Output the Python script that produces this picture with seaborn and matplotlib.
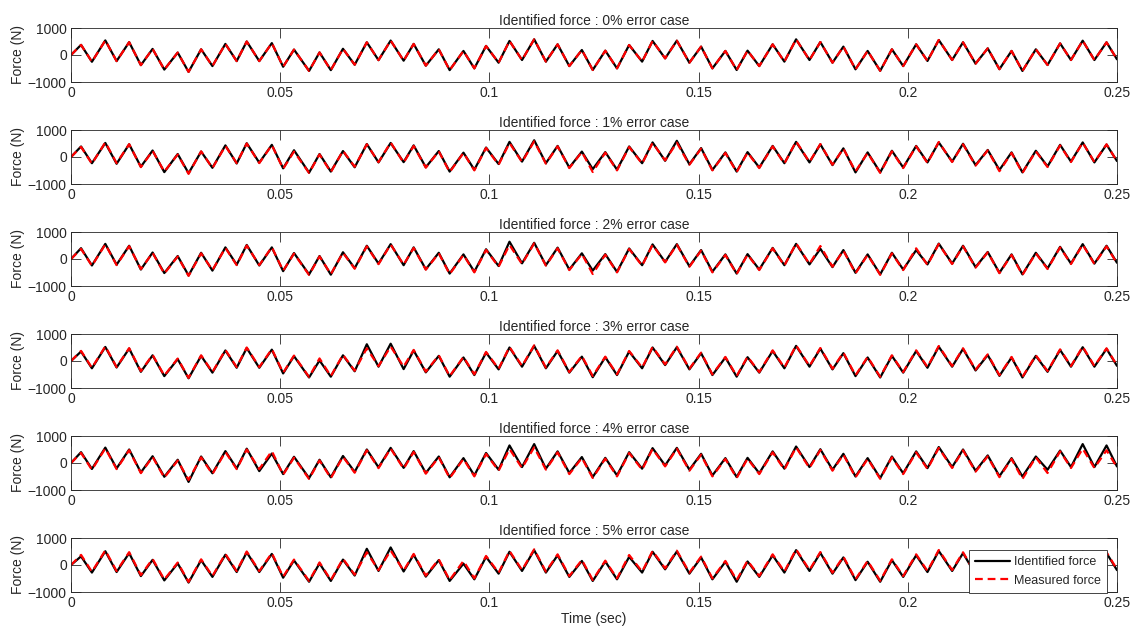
import numpy as np
import matplotlib
matplotlib.use("Agg")
import matplotlib.pyplot as plt
import seaborn as sns

# Peak / trough times (sec)
t_ext = [0.0, 0.0024, 0.0050, 0.0082, 0.0109, 0.0139, 0.0167, 0.0195, 0.0223, 0.0255,
         0.0281, 0.0311, 0.0338, 0.0369, 0.0396, 0.0420, 0.0450, 0.0480, 0.0507, 0.0533,
         0.0569, 0.0594, 0.0621, 0.0650, 0.0678, 0.0707, 0.0735, 0.0764, 0.0795, 0.0819,
         0.0848, 0.0879, 0.0905, 0.0938, 0.0964, 0.0992, 0.1022, 0.1048, 0.1078, 0.1107,
         0.1135, 0.1163, 0.1191, 0.1221, 0.1247, 0.1277, 0.1305, 0.1334, 0.1365, 0.1390,
         0.1420, 0.1448, 0.1478, 0.1506, 0.1533, 0.1564, 0.1591, 0.1617, 0.1645, 0.1677,
         0.1705, 0.1733, 0.1765, 0.1791, 0.1820, 0.1846, 0.1875, 0.1904, 0.1934, 0.1962,
         0.1989, 0.2020, 0.2047, 0.2074, 0.2106, 0.2132, 0.2162, 0.2191, 0.2219, 0.2248,
         0.2274, 0.2306, 0.2334, 0.2364, 0.2390, 0.2418, 0.2446, 0.2475, 0.2500]

# Measured force (N) at those times
measured = [0, 375, -250, 540, -225, 475, -375, 225, -540, 90,
            -625, 210, -410, 410, -225, 500, -225, 440, -435, 200,
            -590, 95, -560, 230, -360, 470, -190, 535, -210, 410,
            -395, 210, -560, 150, -495, 335, -285, 520, -185, 580,
            -245, 395, -410, 185, -555, 160, -495, 370, -245, 520,
            -125, 530, -285, 310, -495, 150, -555, 160, -410, 395,
            -245, 580, -185, 480, -285, 310, -530, 150, -585, 210,
            -410, 395, -220, 555, -185, 470, -320, 245, -525, 150,
            -590, 210, -370, 430, -185, 530, -185, 470, -160]

error_levels = ["0%", "1%", "2%", "3%", "4%", "5%"]

# Identified force for each error case
identified_0 = list(measured)

identified_1 = [0, 390, -230, 520, -250, 470, -360, 240, -560, 110,
                -600, 200, -400, 430, -240, 510, -210, 450, -420, 250,
                -580, 110, -540, 220, -380, 480, -200, 520, -190, 430,
                -380, 220, -540, 160, -470, 350, -260, 560, -170, 620,
                -230, 410, -390, 200, -450, 180, -470, 390, -230, 540,
                -140, 600, -270, 330, -480, 170, -540, 180, -390, 410,
                -230, 560, -200, 470, -300, 320, -570, 170, -570, 230,
                -390, 410, -200, 540, -170, 490, -300, 260, -480, 170,
                -570, 230, -350, 450, -170, 540, -200, 460, -150]

identified_2 = [0, 400, -240, 560, -210, 490, -390, 240, -520, 110,
                -610, 230, -430, 430, -210, 520, -240, 430, -450, 220,
                -570, 110, -580, 250, -340, 490, -170, 550, -230, 430,
                -380, 230, -540, 170, -470, 360, -260, 640, -160, 600,
                -230, 420, -390, 210, -430, 180, -480, 390, -230, 540,
                -110, 550, -270, 330, -470, 170, -540, 180, -390, 410,
                -230, 560, -200, 380, -300, 330, -510, 170, -570, 230,
                -390, 330, -200, 570, -170, 490, -300, 260, -510, 170,
                -570, 230, -350, 450, -170, 550, -170, 490, -140]

identified_3 = [0, 350, -270, 520, -240, 460, -400, 210, -560, 70,
                -640, 190, -430, 390, -250, 480, -250, 420, -460, 180,
                -610, 20, -580, 210, -380, 620, -210, 640, -300, 390,
                -420, 190, -580, 130, -520, 310, -310, 500, -210, 560,
                -270, 370, -430, 160, -600, 140, -520, 350, -270, 500,
                -150, 510, -310, 290, -520, 130, -580, 140, -430, 370,
                -270, 560, -210, 460, -310, 290, -560, 130, -610, 190,
                -430, 370, -250, 530, -210, 450, -350, 220, -550, 130,
                -610, 190, -400, 410, -210, 510, -210, 450, -180]

identified_4 = [0, 400, -220, 570, -200, 500, -350, 250, -510, 120,
                -700, 240, -380, 440, -200, 530, -300, 350, -410, 230,
                -560, 120, -530, 260, -330, 500, -160, 560, -180, 440,
                -370, 240, -530, 180, -460, 370, -250, 650, -150, 700,
                -210, 430, -370, 220, -520, 190, -460, 400, -210, 550,
                -90, 560, -250, 340, -460, 180, -520, 190, -380, 430,
                -210, 610, -150, 510, -250, 340, -500, 180, -560, 240,
                -380, 430, -190, 590, -150, 500, -290, 280, -490, 180,
                -500, 240, -250, 460, -150, 700, -150, 650, -130]

identified_5 = [0, 320, -280, 510, -260, 440, -410, 190, -570, 60,
                -650, 180, -440, 380, -260, 470, -260, 410, -470, 170,
                -620, 60, -590, 200, -390, 600, -220, 650, -240, 380,
                -430, 180, -590, 50, -530, 300, -320, 490, -220, 550,
                -280, 360, -440, 150, -590, 130, -530, 300, -280, 490,
                -160, 500, -320, 280, -530, 120, -620, 130, -440, 360,
                -280, 550, -220, 450, -320, 280, -560, 120, -620, 180,
                -440, 360, -260, 520, -220, 440, -350, 210, -560, 120,
                -620, 180, -400, 400, -220, 500, -220, 440, -190]

identified_all = [identified_0, identified_1, identified_2,
                  identified_3, identified_4, identified_5]

sns.set_theme(style="ticks")
plt.rcParams['font.family'] = ['Liberation Sans', 'DejaVu Sans']
plt.rcParams['axes.edgecolor'] = '#262626'
plt.rcParams['xtick.color'] = '#262626'
plt.rcParams['ytick.color'] = '#262626'

fig = plt.figure(figsize=(11.36, 6.43), dpi=100)
W, H = 1136, 643

for i, (lvl, ident) in enumerate(zip(error_levels, identified_all)):
    top = 28 + 102 * i
    ax = fig.add_axes([71 / W, 1 - (top + 54) / H, 1046 / W, 54 / H])
    sns.lineplot(x=t_ext, y=ident, ax=ax, color='black', linewidth=1.6,
                 estimator=None, sort=False, label='Identified force')
    sns.lineplot(x=t_ext, y=measured, ax=ax, color='red', linewidth=1.6,
                 linestyle=(0, (3.5, 2.2)), estimator=None, sort=False,
                 label='Measured force')
    ax.set_xlim(0, 0.25)
    ax.set_ylim(-1000, 1000)
    ax.set_xticks([0, 0.05, 0.1, 0.15, 0.2, 0.25])
    ax.set_xticklabels(['0', '0.05', '0.1', '0.15', '0.2', '0.25'])
    ax.set_yticks([-1000, 0, 1000])
    ax.tick_params(direction='in', length=7.5, width=0.6, top=True, right=True,
                   labelsize=10, pad=3)
    for sp in ax.spines.values():
        sp.set_linewidth(0.6)
    ax.set_title(f'Identified force : {lvl} error case', fontsize=10, pad=2.5)
    ax.set_ylabel('Force (N)', fontsize=10, labelpad=2)
    ax.set_xlabel('')
    if i == 5:
        ax.set_xlabel('Time (sec)', fontsize=10, labelpad=1)
        leg = ax.legend(loc='lower right', bbox_to_anchor=(0.9905, -0.02),
                        fontsize=9, frameon=True, fancybox=False, framealpha=1,
                        borderpad=0.5, labelspacing=0.55, handlelength=2.8,
                        handletextpad=0.3, borderaxespad=0)
        leg.get_frame().set_edgecolor('#262626')
        leg.get_frame().set_linewidth(0.6)
    else:
        ax.get_legend().remove()

fig.savefig('out.png', dpi=100)
